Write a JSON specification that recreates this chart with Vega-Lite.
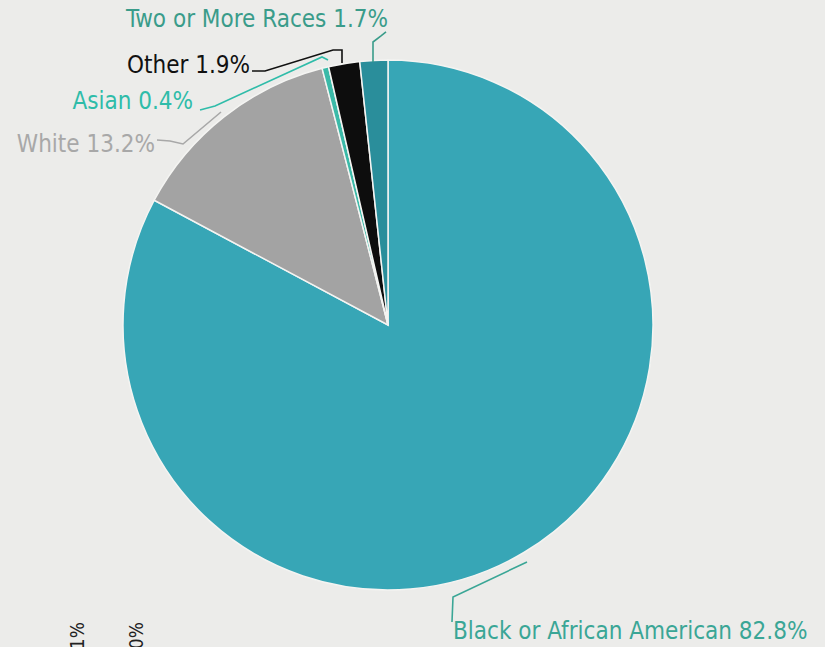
{
  "$schema": "https://vega.github.io/schema/vega-lite/v6.json",
  "width": 825,
  "height": 647,
  "autosize": {"type": "none"},
  "padding": 0,
  "background": "#ececea",
  "config": {"view": {"stroke": null}},
  "datasets": {
    "slices": [
      {"race": "Black or African American", "pct": 82.8, "order": 1},
      {"race": "White", "pct": 13.2, "order": 2},
      {"race": "Asian", "pct": 0.4, "order": 3},
      {"race": "Other", "pct": 1.9, "order": 4},
      {"race": "Two or More Races", "pct": 1.7, "order": 5}
    ],
    "leaders": [
      {"race": "Two or More Races", "i": 1, "x": -0.0566, "y": 0.9925},
      {"race": "Two or More Races", "i": 2, "x": -0.0566, "y": 1.0679},
      {"race": "Two or More Races", "i": 3, "x": -0.0264, "y": 1.0906},
      {"race": "Two or More Races", "i": 4, "x": -0.0075, "y": 1.1057},
      {"race": "Other", "i": 1, "x": -0.1736, "y": 0.9887},
      {"race": "Other", "i": 2, "x": -0.1736, "y": 1.0377},
      {"race": "Other", "i": 3, "x": -0.2075, "y": 1.0377},
      {"race": "Other", "i": 4, "x": -0.4642, "y": 0.9585},
      {"race": "Other", "i": 5, "x": -0.5132, "y": 0.9585},
      {"race": "Asian", "i": 1, "x": -0.2264, "y": 1.0},
      {"race": "Asian", "i": 2, "x": -0.2491, "y": 1.0113},
      {"race": "Asian", "i": 3, "x": -0.6528, "y": 0.8264},
      {"race": "Asian", "i": 4, "x": -0.7094, "y": 0.8113},
      {"race": "White", "i": 1, "x": -0.6302, "y": 0.8038},
      {"race": "White", "i": 2, "x": -0.7736, "y": 0.683},
      {"race": "White", "i": 3, "x": -0.8226, "y": 0.6943},
      {"race": "White", "i": 4, "x": -0.8717, "y": 0.6981},
      {"race": "Black or African American", "i": 1, "x": 0.5245, "y": -0.8943},
      {"race": "Black or African American", "i": 2, "x": 0.2453, "y": -1.0264},
      {"race": "Black or African American", "i": 3, "x": 0.2415, "y": -1.1208}
    ],
    "labelsRight": [
      {"race": "Two or More Races", "text": "Two or More Races 1.7%", "x": 0.0, "y": 1.1509},
      {"race": "Other", "text": "Other 1.9%", "x": -0.5208, "y": 0.9774},
      {"race": "Asian", "text": "Asian 0.4%", "x": -0.7358, "y": 0.8415},
      {"race": "White", "text": "White 13.2%", "x": -0.8792, "y": 0.6792}
    ],
    "labelsLeft": [
      {"race": "Black or African American", "text": "Black or African American 82.8%", "x": 0.2453, "y": -1.1585}
    ],
    "cutoff": [
      {"text": "1.1%", "x": -1.17, "y": -1.1208},
      {"text": "1.0%", "x": -0.946, "y": -1.1208}
    ]
  },
  "layer": [
    {
      "data": {"name": "slices"},
      "mark": {"type": "arc", "radius": 265, "stroke": "#f4f4f2", "strokeWidth": 1.5},
      "encoding": {
        "x": {"datum": 0, "type": "quantitative", "scale": {"domain": [-1.4642, 1.6491], "nice": false, "zero": false}, "axis": null},
        "y": {"datum": 0, "type": "quantitative", "scale": {"domain": [-1.2151, 1.2264], "nice": false, "zero": false}, "axis": null},
        "theta": {"field": "pct", "type": "quantitative", "stack": true},
        "order": {"field": "order"},
        "color": {
          "field": "race", "type": "nominal", "legend": null,
          "scale": {
            "domain": ["Black or African American", "White", "Asian", "Other", "Two or More Races"],
            "range": ["#37a6b6", "#a3a3a3", "#3bbaa8", "#0d0d0d", "#2a8e9b"]
          }
        }
      }
    },
    {
      "data": {"name": "leaders"},
      "mark": {"type": "line", "strokeWidth": 1.6, "interpolate": "linear"},
      "encoding": {
        "x": {"field": "x", "type": "quantitative", "axis": null},
        "y": {"field": "y", "type": "quantitative", "axis": null},
        "detail": {"field": "race"},
        "order": {"field": "i"},
        "color": {
          "field": "race", "type": "nominal", "legend": null,
          "scale": {
            "domain": ["Black or African American", "White", "Asian", "Other", "Two or More Races"],
            "range": ["#3aa696", "#a8a8a8", "#2fbca9", "#111111", "#3a9c8a"]
          }
        }
      }
    },
    {
      "data": {"name": "labelsRight"},
      "mark": {"type": "text", "font": "DejaVu Sans Condensed", "fontSize": 24, "baseline": "middle", "align": "right"},
      "encoding": {
        "x": {"field": "x", "type": "quantitative", "axis": null},
        "y": {"field": "y", "type": "quantitative", "axis": null},
        "text": {"field": "text"},
        "color": {
          "field": "race", "type": "nominal", "legend": null,
          "scale": {
            "domain": ["Black or African American", "White", "Asian", "Other", "Two or More Races"],
            "range": ["#3aa696", "#a8a8a8", "#2fbca9", "#111111", "#3a9c8a"]
          }
        }
      }
    },
    {
      "data": {"name": "labelsLeft"},
      "mark": {"type": "text", "font": "DejaVu Sans Condensed", "fontSize": 24, "baseline": "middle", "align": "left", "color": "#3aa696"},
      "encoding": {
        "x": {"field": "x", "type": "quantitative", "axis": null},
        "y": {"field": "y", "type": "quantitative", "axis": null},
        "text": {"field": "text"}
      }
    },
    {
      "data": {"name": "cutoff"},
      "mark": {"type": "text", "font": "DejaVu Sans Condensed", "fontSize": 19, "angle": 270, "align": "right", "baseline": "middle", "color": "#222222"},
      "encoding": {
        "x": {"field": "x", "type": "quantitative", "axis": null},
        "y": {"field": "y", "type": "quantitative", "axis": null},
        "text": {"field": "text"}
      }
    }
  ],
  "resolve": {"scale": {"color": "independent"}}
}
